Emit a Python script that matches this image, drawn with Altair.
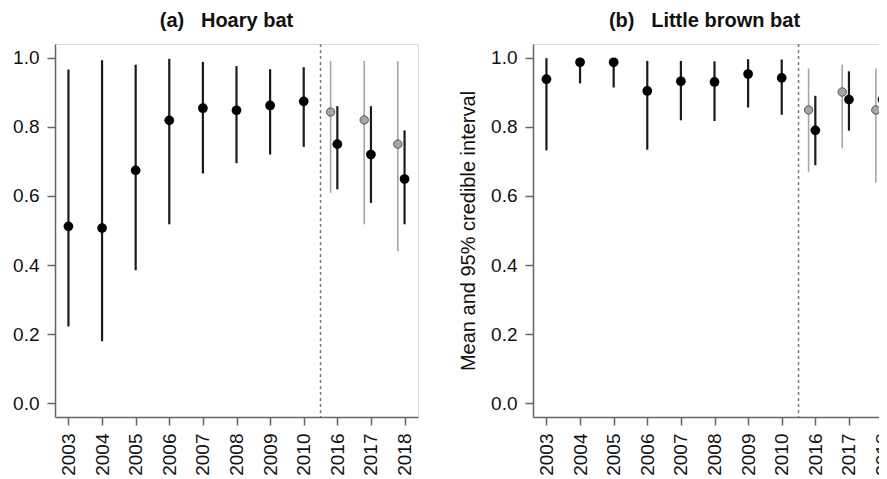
import altair as alt
import pandas as pd

years = ["2003", "2004", "2005", "2006", "2007", "2008", "2009", "2010", "2016", "2017", "2018"]
late_years = ["2016", "2017", "2018"]

# Panel (a) Hoary bat - black estimates
hoary_mean = [0.512, 0.507, 0.674, 0.819, 0.854, 0.848, 0.862, 0.874, 0.750, 0.720, 0.649]
hoary_lo = [0.222, 0.179, 0.385, 0.518, 0.665, 0.695, 0.720, 0.742, 0.619, 0.580, 0.518]
hoary_hi = [0.966, 0.993, 0.980, 0.997, 0.988, 0.976, 0.967, 0.973, 0.860, 0.860, 0.790]
# Panel (a) Hoary bat - grey estimates (2016-2018)
hoary_grey_mean = [0.843, 0.820, 0.750]
hoary_grey_lo = [0.609, 0.518, 0.440]
hoary_grey_hi = [0.991, 0.991, 0.991]

# Panel (b) Little brown bat - black estimates
lbb_mean = [0.938, 0.987, 0.987, 0.904, 0.932, 0.930, 0.953, 0.942, 0.790, 0.879, 0.879]
lbb_lo = [0.732, 0.926, 0.914, 0.734, 0.819, 0.817, 0.856, 0.835, 0.689, 0.789, 0.769]
lbb_hi = [0.999, 0.996, 0.996, 0.991, 0.991, 0.990, 0.996, 0.995, 0.890, 0.961, 0.970]
# Panel (b) Little brown bat - grey estimates (2016-2018)
lbb_grey_mean = [0.849, 0.901, 0.849]
lbb_grey_lo = [0.669, 0.738, 0.638]
lbb_grey_hi = [0.969, 0.980, 0.969]

divider_at = [8.5]

GREY_SHIFT = -0.2
FONT = "Liberation Sans"
NB = "\u00a0"


def make_df(means, los, his, labels, shift):
    idx = [years.index(y) + 1 + shift for y in labels]
    return pd.DataFrame({"x": idx, "mean": means, "lo": los, "hi": his, "year": labels})


label_expr = "[" + ",".join("'" + y + "'" for y in years) + "][round(datum.value) - 1]"


def panel(title, black, grey, ytitle):
    xaxis = alt.Axis(values=list(range(1, 12)), labelExpr=label_expr, labelAngle=270,
                     labelAlign="right", labelBaseline="middle", grid=False,
                     labelOverlap=False, labelFlush=False, labelBound=False,
                     tickSize=8, labelPadding=8, labelFontSize=19, labelFont=FONT,
                     labelColor="#111", domainColor="#666", tickColor="#666",
                     domainWidth=1.5, tickWidth=1.5, title=None)
    yaxis = alt.Axis(values=[0, 0.2, 0.4, 0.6, 0.8, 1.0], format=".1f", grid=False,
                     labelOverlap=False, labelFlush=False,
                     tickSize=8, labelPadding=8, labelFontSize=19, labelFont=FONT,
                     labelColor="#111", domainColor="#666", tickColor="#666",
                     domainWidth=1.5, tickWidth=1.5, minExtent=47, maxExtent=47,
                     title=ytitle if ytitle else None, titleFont=FONT, titleFontSize=20,
                     titleFontWeight="normal", titleColor="#111", titlePadding=8)
    xs = alt.Scale(domain=[0.6, 11.4], nice=False, zero=False)
    ys = alt.Scale(domain=[-0.04, 1.04], nice=False, zero=False)
    X = alt.X("x:Q", scale=xs, axis=xaxis)

    vline = alt.Chart(pd.DataFrame({"x": divider_at})).mark_rule(
        color="#777", strokeWidth=1.5, strokeDash=[3, 3]).encode(x=X)

    gbase = alt.Chart(grey)
    grey_rule = gbase.mark_rule(color="#a6a6a6", strokeWidth=1.6).encode(
        x=X, y=alt.Y("lo:Q", scale=ys, axis=yaxis), y2="hi:Q")
    grey_pt = gbase.mark_circle(size=70, color="#a6a6a6", opacity=1,
                                stroke="#555", strokeWidth=1).encode(
        x=X, y=alt.Y("mean:Q", scale=ys, axis=yaxis))

    bbase = alt.Chart(black)
    black_rule = bbase.mark_rule(color="#1a1a1a", strokeWidth=2.2).encode(
        x=X, y=alt.Y("lo:Q", scale=ys, axis=yaxis), y2="hi:Q")
    black_pt = bbase.mark_circle(size=95, color="#000000", opacity=1).encode(
        x=X, y=alt.Y("mean:Q", scale=ys, axis=yaxis))

    return alt.layer(vline, grey_rule, black_rule, grey_pt, black_pt).properties(
        width=363, height=373,
        title=alt.TitleParams(title, font=FONT, fontSize=20, fontWeight="bold",
                              color="#111", offset=12, dx=-10, anchor="middle"))


pa = panel("(a)" + NB * 3 + "Hoary bat",
           make_df(hoary_mean, hoary_lo, hoary_hi, years, 0),
           make_df(hoary_grey_mean, hoary_grey_lo, hoary_grey_hi, late_years, GREY_SHIFT),
           None)
pb = panel("(b)" + NB * 3 + "Little brown bat",
           make_df(lbb_mean, lbb_lo, lbb_hi, years, 0),
           make_df(lbb_grey_mean, lbb_grey_lo, lbb_grey_hi, late_years, GREY_SHIFT),
           "Mean and 95% credible interval")

chart = alt.hconcat(pa, pb, spacing=38).properties(
    autosize=alt.AutoSizeParams(type="none"),
    padding={"left": 47, "top": 36, "right": 824, "bottom": 423}
).configure_view(stroke=None).configure(background="white")

chart.save("out.html", embed_options={"renderer": "svg", "actions": False})
